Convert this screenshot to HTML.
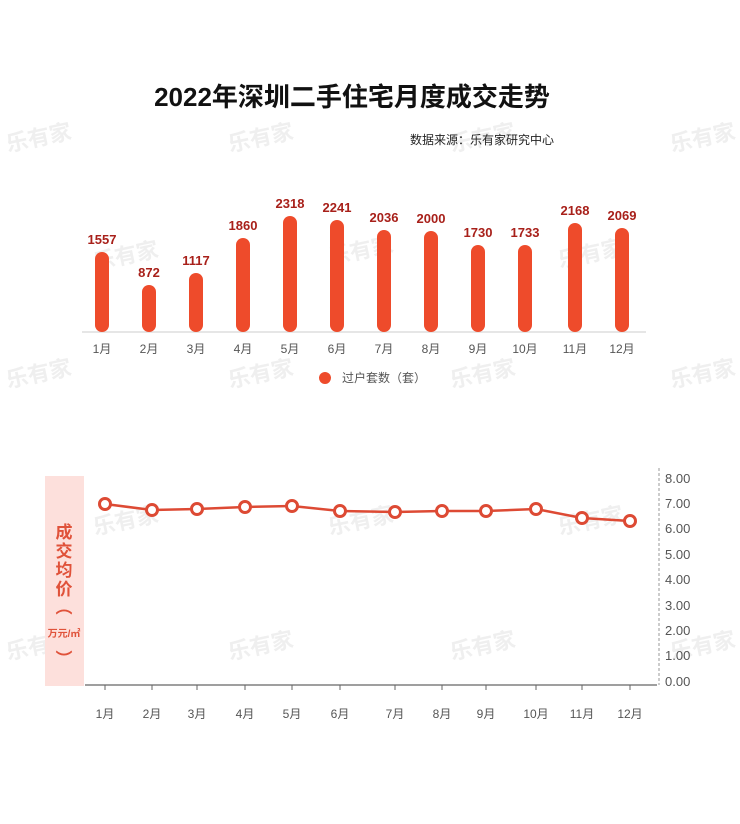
<!DOCTYPE html>
<html><head><meta charset="utf-8"><style>
html,body{margin:0;padding:0;background:#fff;}
svg{display:block;font-family:"Liberation Sans","Noto Sans CJK SC",sans-serif;}
</style></head><body>
<svg width="740" height="824" viewBox="0 0 740 824" xmlns="http://www.w3.org/2000/svg">
<rect width="740" height="824" fill="#fff"/>
<g fill="#efefef" font-size="22" font-weight="bold" font-family="Noto Sans CJK SC,sans-serif">
<text x="8" y="152" transform="rotate(-12 8 152)">乐有家</text>
<text x="230" y="152" transform="rotate(-12 230 152)">乐有家</text>
<text x="452" y="152" transform="rotate(-12 452 152)">乐有家</text>
<text x="672" y="152" transform="rotate(-12 672 152)">乐有家</text>
<text x="95" y="270" transform="rotate(-12 95 270)">乐有家</text>
<text x="330" y="265" transform="rotate(-12 330 265)">乐有家</text>
<text x="560" y="268" transform="rotate(-12 560 268)">乐有家</text>
<text x="8" y="388" transform="rotate(-12 8 388)">乐有家</text>
<text x="230" y="388" transform="rotate(-12 230 388)">乐有家</text>
<text x="452" y="388" transform="rotate(-12 452 388)">乐有家</text>
<text x="672" y="388" transform="rotate(-12 672 388)">乐有家</text>
<text x="95" y="535" transform="rotate(-12 95 535)">乐有家</text>
<text x="330" y="535" transform="rotate(-12 330 535)">乐有家</text>
<text x="560" y="535" transform="rotate(-12 560 535)">乐有家</text>
<text x="8" y="660" transform="rotate(-12 8 660)">乐有家</text>
<text x="230" y="660" transform="rotate(-12 230 660)">乐有家</text>
<text x="452" y="660" transform="rotate(-12 452 660)">乐有家</text>
<text x="672" y="660" transform="rotate(-12 672 660)">乐有家</text>
</g>
<text x="352" y="106" text-anchor="middle" font-size="26" font-weight="bold" fill="#111">2022年深圳二手住宅月度成交走势</text>
<text x="410" y="144" font-size="12" fill="#222">数据来源：乐有家研究中心</text>

<line x1="82" y1="332" x2="646" y2="332" stroke="#ddd" stroke-width="1.5"/>
<g fill="#ee4b2b">
<rect x="95" y="252" width="14" height="80" rx="7"/>
<rect x="142" y="285" width="14" height="47" rx="7"/>
<rect x="189" y="273" width="14" height="59" rx="7"/>
<rect x="236" y="238" width="14" height="94" rx="7"/>
<rect x="283" y="216" width="14" height="116" rx="7"/>
<rect x="330" y="220" width="14" height="112" rx="7"/>
<rect x="377" y="230" width="14" height="102" rx="7"/>
<rect x="424" y="231" width="14" height="101" rx="7"/>
<rect x="471" y="245" width="14" height="87" rx="7"/>
<rect x="518" y="245" width="14" height="87" rx="7"/>
<rect x="568" y="223" width="14" height="109" rx="7"/>
<rect x="615" y="228" width="14" height="104" rx="7"/>
</g>
<g fill="#a8201a" font-size="13" font-weight="bold" text-anchor="middle">
<text x="102" y="244">1557</text><text x="149" y="277">872</text><text x="196" y="265">1117</text>
<text x="243" y="230">1860</text><text x="290" y="208">2318</text><text x="337" y="212">2241</text>
<text x="384" y="222">2036</text><text x="431" y="223">2000</text><text x="478" y="237">1730</text>
<text x="525" y="237">1733</text><text x="575" y="215">2168</text><text x="622" y="220">2069</text>
</g>
<g fill="#555" font-size="12" text-anchor="middle">
<text x="102" y="353">1月</text><text x="149" y="353">2月</text><text x="196" y="353">3月</text>
<text x="243" y="353">4月</text><text x="290" y="353">5月</text><text x="337" y="353">6月</text>
<text x="384" y="353">7月</text><text x="431" y="353">8月</text><text x="478" y="353">9月</text>
<text x="525" y="353">10月</text><text x="575" y="353">11月</text><text x="622" y="353">12月</text>
</g>
<circle cx="325" cy="378" r="6" fill="#ee4b2b"/>
<text x="342" y="382" font-size="12" fill="#555">过户套数（套）</text>

<rect x="45" y="476" width="39" height="210" fill="#fde0dc"/>
<g fill="#e0523a" font-size="17" font-weight="bold" text-anchor="middle">
<text x="64" y="538">成</text><text x="64" y="557">交</text><text x="64" y="576">均</text><text x="64" y="595">价</text>
<text x="64" y="613">︵</text><text x="64" y="665">︶</text>
</g>
<text x="64" y="637" font-size="10" font-weight="bold" fill="#e0523a" text-anchor="middle">万元/㎡</text>

<line x1="85" y1="685" x2="657" y2="685" stroke="#666" stroke-width="1.2"/>
<g stroke="#666" stroke-width="1">
<line x1="105" y1="685" x2="105" y2="690"/><line x1="152" y1="685" x2="152" y2="690"/><line x1="197" y1="685" x2="197" y2="690"/>
<line x1="245" y1="685" x2="245" y2="690"/><line x1="292" y1="685" x2="292" y2="690"/><line x1="340" y1="685" x2="340" y2="690"/>
<line x1="395" y1="685" x2="395" y2="690"/><line x1="442" y1="685" x2="442" y2="690"/><line x1="486" y1="685" x2="486" y2="690"/>
<line x1="536" y1="685" x2="536" y2="690"/><line x1="582" y1="685" x2="582" y2="690"/><line x1="630" y1="685" x2="630" y2="690"/>
</g>
<line x1="659" y1="468" x2="659" y2="685" stroke="#999" stroke-width="1" stroke-dasharray="3,2"/>
<g fill="#555" font-size="13">
<text x="665" y="483">8.00</text><text x="665" y="508">7.00</text><text x="665" y="533">6.00</text>
<text x="665" y="559">5.00</text><text x="665" y="584">4.00</text><text x="665" y="610">3.00</text>
<text x="665" y="635">2.00</text><text x="665" y="660">1.00</text><text x="665" y="686">0.00</text>
</g>
<g fill="#555" font-size="12" text-anchor="middle">
<text x="105" y="718">1月</text><text x="152" y="718">2月</text><text x="197" y="718">3月</text>
<text x="245" y="718">4月</text><text x="292" y="718">5月</text><text x="340" y="718">6月</text>
<text x="395" y="718">7月</text><text x="442" y="718">8月</text><text x="486" y="718">9月</text>
<text x="536" y="718">10月</text><text x="582" y="718">11月</text><text x="630" y="718">12月</text>
</g>
<polyline fill="none" stroke="#dd4a34" stroke-width="2.5" points="105,504 152,510 197,509 245,507 292,506 340,511 395,512 442,511 486,511 536,509 582,518 630,521"/>
<g fill="#fff" stroke="#dd4a34" stroke-width="3">
<circle cx="105" cy="504" r="5.5"/><circle cx="152" cy="510" r="5.5"/><circle cx="197" cy="509" r="5.5"/>
<circle cx="245" cy="507" r="5.5"/><circle cx="292" cy="506" r="5.5"/><circle cx="340" cy="511" r="5.5"/>
<circle cx="395" cy="512" r="5.5"/><circle cx="442" cy="511" r="5.5"/><circle cx="486" cy="511" r="5.5"/>
<circle cx="536" cy="509" r="5.5"/><circle cx="582" cy="518" r="5.5"/><circle cx="630" cy="521" r="5.5"/>
</g>
</svg>
</body></html>
